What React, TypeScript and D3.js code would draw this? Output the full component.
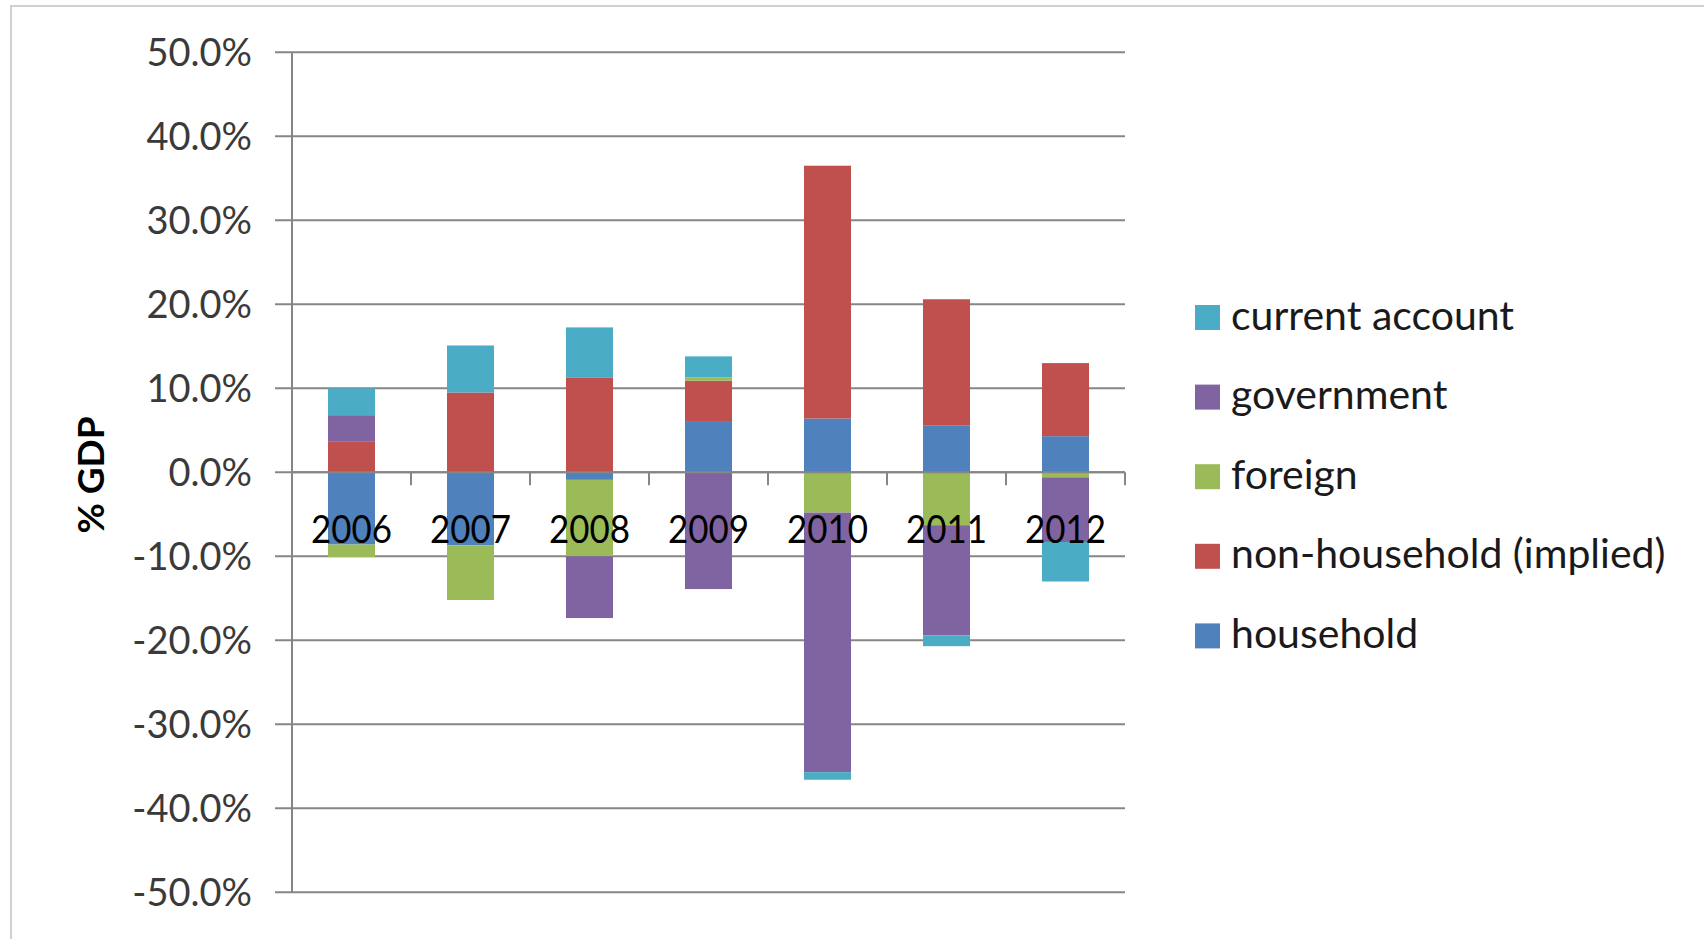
import React from "react";
import * as d3 from "d3";

const years = ["2006", "2007", "2008", "2009", "2010", "2011", "2012"];
const household = [-8.6, -8.7, -0.9, 6.0, 6.4, 5.55, 4.3];
const nonHousehold = [3.7, 9.5, 11.3, 4.9, 30.1, 15.05, 8.7];
const foreign = [-1.5, -6.5, -9.1, 0.4, -4.8, -6.3, -0.6];
const government = [3.1, 0, -7.35, -13.9, -30.9, -13.1, -7.7];
const currentAccount = [3.2, 5.6, 5.95, 2.5, -0.9, -1.3, -4.7];

const seriesKeys = ["household", "non-household (implied)", "foreign", "government", "current account"];
const seriesColors = ["#4F81BD", "#C0504D", "#9BBB59", "#8064A2", "#4BACC6"];
const yTicks = [50, 40, 30, 20, 10, 0, -10, -20, -30, -40, -50];
const yLabel = "% GDP";

const W = 1704;
const H = 939;

export default function App() {
  const seriesValues = [household, nonHousehold, foreign, government, currentAccount];
  const rows = years.map((y, i) => {
    const r: Record<string, any> = { year: y };
    seriesKeys.forEach((k, j) => (r[k] = seriesValues[j][i]));
    return r;
  });
  const stacked = d3
    .stack<any>()
    .keys(seriesKeys)
    .order(d3.stackOrderNone)
    .offset(d3.stackOffsetDiverging)(rows);

  const plotLeft = 292;
  const plotRight = 1125;
  const y = d3.scaleLinear().domain([-50, 50]).range([892.3, 52.3]);
  const x = d3.scaleBand().domain(years).range([plotLeft, plotRight]).padding(0);
  const barW = x.bandwidth() * 0.395;
  const grid = "#868686";
  const fmt = (v: number) => `${v.toFixed(1)}%`;

  const legendItems = seriesKeys
    .map((k, i) => ({ k, c: seriesColors[i] }))
    .reverse();

  return (
    <svg
      width={W}
      height={H}
      style={{ position: "absolute", left: 0, top: 0, background: "#fff" }}
      fontFamily="Lato, 'Open Sans', sans-serif"
    >
      <rect x={0} y={0} width={W} height={H} fill="#fff" />
      <rect x={11} y={6} width={W + 100} height={H + 100} fill="none" stroke="#d0d0d0" strokeWidth={2} />

      {/* gridlines + y ticks */}
      {yTicks.map((t) => (
        <g key={t}>
          <line x1={275} x2={plotRight} y1={y(t)} y2={y(t)} stroke={grid} strokeWidth={2} />
          <text x={252} y={y(t) + 14} textAnchor="end" fontSize={38} fill="#3a3a3a">
            {fmt(t)}
          </text>
        </g>
      ))}

      {/* bars */}
      {stacked.map((s, si) => (
        <g key={s.key} fill={seriesColors[si]}>
          {s.map((d, i) => {
            const y0 = y(Math.max(d[0], d[1]));
            const y1 = y(Math.min(d[0], d[1]));
            return (
              <rect
                key={i}
                x={(x(years[i]) as number) + (x.bandwidth() - barW) / 2}
                y={y0}
                width={barW}
                height={Math.max(0, y1 - y0)}
              />
            );
          })}
        </g>
      ))}

      {/* y axis line */}
      <line x1={plotLeft} x2={plotLeft} y1={y(50)} y2={y(-50)} stroke={grid} strokeWidth={2} />
      {/* x axis (at zero) with category tick marks */}
      <line x1={plotLeft} x2={plotRight} y1={y(0)} y2={y(0)} stroke={grid} strokeWidth={2} />
      {years.map((yr) => (
        <line
          key={"t" + yr}
          x1={(x(yr) as number) + x.bandwidth()}
          x2={(x(yr) as number) + x.bandwidth()}
          y1={y(0)}
          y2={y(0) + 13}
          stroke={grid}
          strokeWidth={2}
        />
      ))}
      {years.map((yr) => (
        <text
          key={"l" + yr}
          x={(x(yr) as number) + x.bandwidth() / 2}
          y={543}
          textAnchor="middle"
          fontSize={38}
          fill="#000"
          transform={`translate(${((x(yr) as number) + x.bandwidth() / 2) * 0.08},0) scale(0.92,1)`}
        >
          {yr}
        </text>
      ))}

      {/* y axis label */}
      <text
        transform={`translate(104,475) rotate(-90)`}
        textAnchor="middle"
        fontSize={37}
        fontWeight="bold"
        fill="#000"
      >
        {yLabel}
      </text>

      {/* legend */}
      {legendItems.map((it, i) => {
        const cy = 317.5 + i * 79.6;
        return (
          <g key={it.k}>
            <rect x={1195} y={cy - 12.5} width={25} height={25} fill={it.c} />
            <text x={1231} y={cy + 12} fontSize={41} fill="#1a1a1a">
              {it.k}
            </text>
          </g>
        );
      })}
    </svg>
  );
}
